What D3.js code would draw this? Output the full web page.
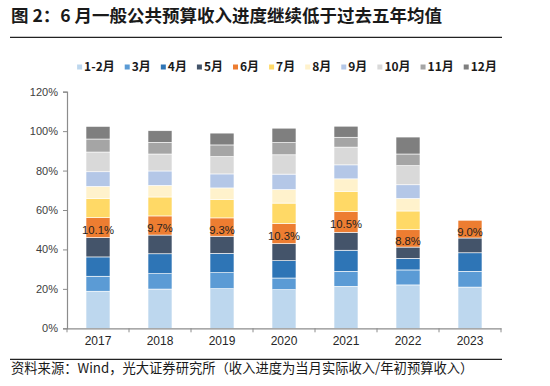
<!DOCTYPE html>
<html>
<head>
<meta charset="utf-8">
<script src="https://cdnjs.cloudflare.com/ajax/libs/d3/7.8.5/d3.min.js"></script>
<style>
  body { margin: 0; background: #fff; }
  svg { display: block; }
</style>
</head>
<body>
<svg id="chart" width="550" height="386"></svg>
<script>
// monthly budget revenue progress (% of annual budget), one array per year
var years = ["2017", "2018", "2019", "2020", "2021", "2022", "2023"];
var months = ["1-2月", "3月", "4月", "5月", "6月", "7月", "8月", "9月", "10月", "11月", "12月"];
var colors = ["#bdd7ee", "#5b9bd5", "#2e75b6", "#44546a", "#ed7d31", "#ffd966",
              "#fff2cc", "#b4c7e7", "#d9d9d9", "#a5a5a5", "#7f7f7f"];
var yTicks = [0, 20, 40, 60, 80, 100, 120];

var p2017 = [18.8, 7.6, 9.8, 9.8, 10.1, 9.8, 6.1, 7.4, 10.0, 6.6, 6.4];
var p2018 = [19.9, 7.8, 10.1, 9.5, 9.7, 9.6, 5.9, 7.3, 8.6, 5.9, 5.9];
var p2019 = [20.1, 8.1, 9.8, 8.7, 9.3, 9.3, 5.9, 7.1, 8.8, 5.9, 6.0];
var p2020 = [19.6, 5.9, 8.8, 8.6, 10.3, 10.3, 6.9, 7.8, 9.8, 6.2, 7.3];
var p2021 = [21.3, 7.6, 10.7, 9.1, 10.5, 10.3, 6.3, 7.1, 9.0, 5.0, 5.6];
var p2022 = [22.0, 7.6, 5.9, 5.7, 8.8, 9.5, 6.4, 6.9, 9.7, 5.9, 8.6];
var p2023 = [20.9, 8.0, 9.4, 7.5, 9.0];
var series = [p2017, p2018, p2019, p2020, p2021, p2022, p2023];

var svg = d3.select("#chart");
var cjk = "'Noto Sans CJK SC', 'Noto Sans', sans-serif";
var latin = "'Liberation Sans', Arial, sans-serif";

// title + rules
svg.append("text")
  .attr("x", 11).attr("y", 22)
  .style("font-family", cjk).style("font-size", "17.5px").style("font-weight", "bold")
  .attr("fill", "#1a1a1a")
  .text("图 2：6 月一般公共预算收入进度继续低于过去五年均值");
svg.append("line").attr("x1", 10).attr("x2", 502).attr("y1", 37.3).attr("y2", 37.3)
  .attr("stroke", "#222").attr("stroke-width", 1.3);
svg.append("line").attr("x1", 10).attr("x2", 502).attr("y1", 359.3).attr("y2", 359.3)
  .attr("stroke", "#222").attr("stroke-width", 1.3);
svg.append("text")
  .attr("x", 11).attr("y", 373)
  .style("font-family", cjk).style("font-size", "13.3px")
  .attr("fill", "#1a1a1a")
  .text("资料来源：Wind，光大证券研究所（收入进度为当月实际收入/年初预算收入）");

// scales
var x = d3.scaleBand().domain(years).range([67, 501]).paddingInner(0.613).paddingOuter(0.3065);
var y = d3.scaleLinear().domain([0, 120]).range([328.3, 91.7]);

// stacked rows
var rows = years.map(function(yr, i) {
  var acc = 0;
  return series[i].map(function(v, m) {
    var seg = { year: yr, month: m, v: v, y0: acc, y1: acc + v };
    acc += v;
    return seg;
  });
});

var bars = svg.append("g").selectAll("g")
  .data(rows).enter().append("g");

bars.selectAll("rect")
  .data(function(d) { return d; }).enter()
  .append("rect")
  .attr("x", function(d) { return x(d.year); })
  .attr("width", x.bandwidth())
  .attr("y", function(d) { return y(d.y1); })
  .attr("height", function(d) { return y(d.y0) - y(d.y1); })
  .attr("fill", function(d) { return colors[d.month]; })
  .attr("stroke", "#ffffff").attr("stroke-width", 0.6);

// June labels
bars.each(function(d) {
  var jun = d[4];
  d3.select(this).append("text")
    .attr("x", x(jun.year) + x.bandwidth() / 2)
    .attr("y", (y(jun.y0) + y(jun.y1)) / 2 + 2.5)
    .attr("dy", "0.35em")
    .attr("text-anchor", "middle")
    .style("font-family", latin).style("font-size", "11.3px")
    .attr("fill", "#1f1f1f")
    .text(jun.v.toFixed(1) + "%");
});

// y axis
var yAxis = svg.append("g")
  .attr("transform", "translate(67,0)")
  .call(d3.axisLeft(y).tickValues(yTicks).tickSize(4).tickPadding(5)
    .tickFormat(function(d) { return d + "%"; }));
yAxis.select(".domain").attr("stroke", "#8c8c8c").attr("stroke-width", 1.2);
yAxis.selectAll(".tick line").attr("stroke", "#8c8c8c");
yAxis.selectAll("text").style("font-family", latin).style("font-size", "11px").attr("fill", "#404040");

// x axis
var xAxis = svg.append("g")
  .attr("transform", "translate(0,328.3)")
  .call(d3.axisBottom(x).tickSize(0).tickPadding(8));
xAxis.select(".domain").attr("stroke", "#8c8c8c").attr("stroke-width", 1.2);
xAxis.selectAll("text").style("font-family", latin).style("font-size", "12px").attr("fill", "#262626");
xAxis.selectAll(".bound")
  .data(d3.range(years.length + 1)).enter()
  .append("line")
  .attr("x1", function(i) { return 67 + i * x.step(); })
  .attr("x2", function(i) { return 67 + i * x.step(); })
  .attr("y1", 0).attr("y2", 4)
  .attr("stroke", "#8c8c8c");

// legend
var legend = svg.append("g").attr("transform", "translate(0,67)");
var items = legend.selectAll("g").data(months).enter().append("g");
items.append("rect")
  .attr("y", -2.5).attr("width", 5).attr("height", 5)
  .attr("fill", function(d, i) { return colors[i]; });
items.append("text")
  .attr("x", 7).attr("dy", "0.35em")
  .style("font-family", cjk).style("font-size", "12px").style("font-weight", "bold")
  .attr("fill", "#1a1a1a")
  .text(function(d) { return d; });
var pos = 0, offs = [];
items.each(function() {
  offs.push(pos);
  pos += 7 + d3.select(this).select("text").node().getComputedTextLength() + 10;
});
var start = 287 - (pos - 10) / 2;
items.attr("transform", function(d, i) { return "translate(" + (start + offs[i]) + ",0)"; });
</script>
</body>
</html>
